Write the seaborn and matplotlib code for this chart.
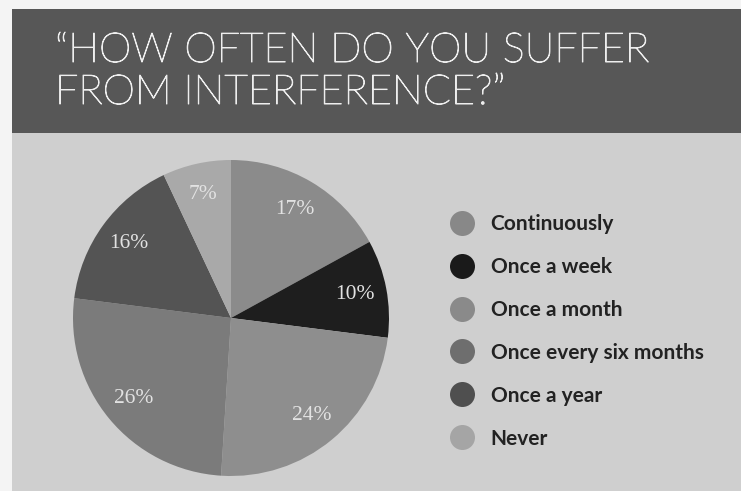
import matplotlib
matplotlib.use("Agg")
import matplotlib.pyplot as plt
import matplotlib.patheffects as pe
from matplotlib.patches import Rectangle
from matplotlib.lines import Line2D
import seaborn as sns

categories = ["Continuously", "Once a week", "Once a month",
              "Once every six months", "Once a year", "Never"]
values = [17, 10, 24, 26, 16, 7]
pie_colors = ["#8b8b8b", "#1e1e1e", "#8e8e8e", "#7b7b7b", "#545454", "#a9a9a9"]
legend_colors = ["#888888", "#1a1a1a", "#8a8a8a", "#6e6e6e", "#4f4f4f", "#a5a5a5"]
title_lines = ["\u201cHOW OFTEN DO YOU SUFFER", "FROM INTERFERENCE?\u201d"]

sns.set_theme(style="white")
plt.rcParams['font.family'] = ['Lato', 'DejaVu Sans']

W, H = 741, 491
fig = plt.figure(figsize=(W / 100, H / 100), dpi=100)
fig.patch.set_facecolor("#f4f4f4")

# panel background
fig.add_artist(Rectangle((12 / W, 0), 1 - 12 / W, (H - 133) / H,
                         transform=fig.transFigure, facecolor="#cfcfcf",
                         edgecolor="none", zorder=-5))
# title banner
fig.add_artist(Rectangle((12 / W, (H - 133) / H), 1 - 12 / W, (133 - 9) / H,
                         transform=fig.transFigure, facecolor="#575757",
                         edgecolor="none", zorder=-5))

for line, base in zip(title_lines, [62, 104]):
    fig.text(55 / W, 1 - base / H, line, color="#eeeeee", fontsize=29.7,
             fontweight="light", va="baseline", ha="left",
             family=['Lato', 'DejaVu Sans'],
             path_effects=[pe.withStroke(linewidth=0.7, foreground="#eeeeee")])

ax = fig.add_axes([73 / W, (H - 476) / H, 316 / W, 316 / H])
ax.pie(values, colors=pie_colors, startangle=90, counterclock=False,
       radius=1, autopct="%d%%", pctdistance=0.8,
       wedgeprops=dict(linewidth=0),
       textprops=dict(color="#e2e2e2", fontsize=15.5,
                      family=['Liberation Serif', 'DejaVu Serif']))
ax.set_xlim(-1, 1)
ax.set_ylim(-1, 1)
ax.set_aspect("equal")
ax.axis("off")

handles = [Line2D([0], [0], marker="o", linestyle="none", markersize=18,
                  markerfacecolor=c, markeredgecolor="none") for c in legend_colors]
leg = fig.legend(handles, categories, loc="upper left",
                 bbox_to_anchor=(450 / W, 1 - 214 / H), frameon=False,
                 prop=dict(size=15, weight="bold", family=['Lato', 'DejaVu Sans']),
                 labelspacing=1.1, handletextpad=0.75, handlelength=1.2,
                 borderaxespad=0, borderpad=0)
for t in leg.get_texts():
    t.set_color("#222222")

fig.savefig("out.png", dpi=100, facecolor=fig.get_facecolor())
